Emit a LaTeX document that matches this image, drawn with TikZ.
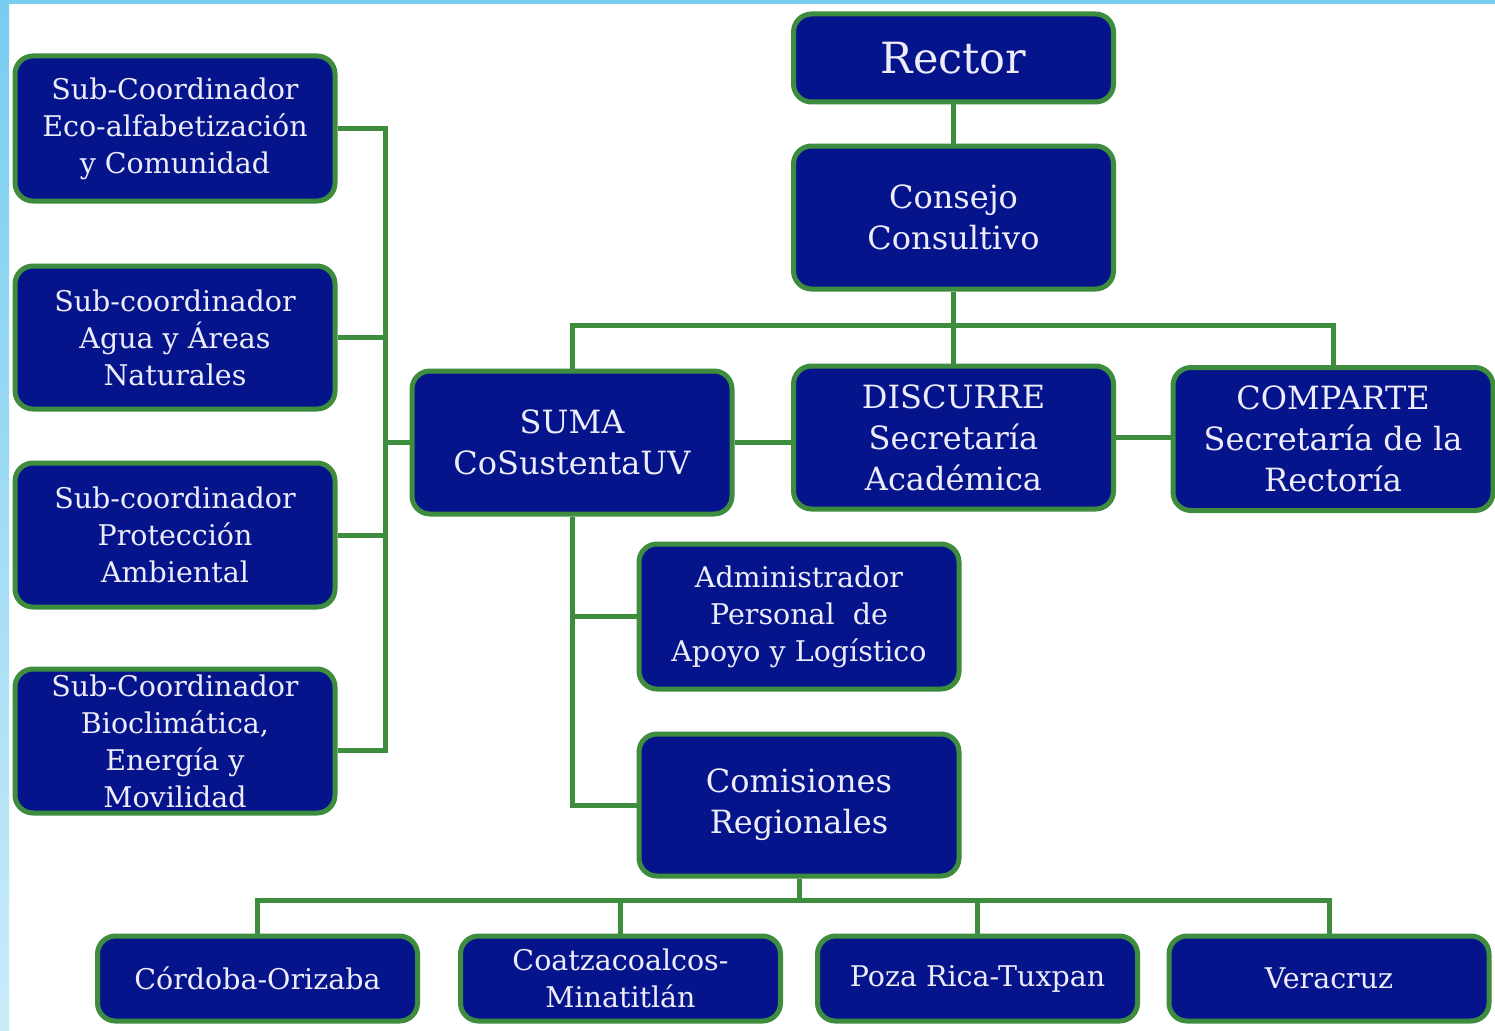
\documentclass[tikz,border=0pt]{standalone}
\usepackage{fontspec}
\setmainfont{DejaVu Serif}
\definecolor{navy}{RGB}{6,20,140}
\definecolor{leaf}{RGB}{62,140,62}
\definecolor{paper}{RGB}{236,236,250}
\definecolor{sky}{RGB}{120,205,240}
\tikzset{
  unit/.style={draw=leaf, line width=5pt, fill=navy, rounded corners=18pt, text=paper,
    align=center, inner sep=2pt, minimum width=320pt},
  small/.style={font=\fontsize{28.5}{37}\selectfont},
  big/.style={font=\fontsize{32}{41}\selectfont},
  link/.style={draw=leaf, line width=5pt}
}
\begin{document}
\begin{tikzpicture}[x=1pt,y=-1pt]
    \useasboundingbox (0,0) rectangle (1495,1030);
    \fill[white] (0,0) rectangle (1495,1030);
    \shade[top color=sky, bottom color=sky!40] (0,0) rectangle (9,1030);
    \fill[sky] (0,0) rectangle (1495,4);

    \node[unit, minimum height=88pt, font=\fontsize{43}{50}\selectfont] (rector) at (953.5,58) {Rector};
    \node[unit, big, minimum height=143pt] (consejo) at (953.5,217.5) {Consejo\\Consultivo};
    \node[unit, big, minimum height=143pt] (suma) at (572,442.5) {SUMA\\CoSustentaUV};
    \node[unit, big, minimum height=143pt] (discurre) at (953.5,437.5) {DISCURRE\\Secretaría\\Académica};
    \node[unit, big, minimum height=143pt] (comparte) at (1333,439) {COMPARTE\\Secretaría de la\\Rectoría};

    \node[unit, small, minimum height=145pt] (subeco) at (175,128.5) {Sub-Coordinador\\Eco-alfabetización\\y Comunidad};
    \node[unit, small, minimum height=143pt] (subagua) at (175,337.5) {Sub-coordinador\\Agua y Áreas\\Naturales};
    \node[unit, small, minimum height=144pt] (subprot) at (175,535) {Sub-coordinador\\Protección\\Ambiental};
    \node[unit, small, minimum height=144pt] (subbio) at (175,741) {Sub-Coordinador\\Bioclimática,\\Energía y\\Movilidad};

    \node[unit, small, minimum height=145pt] (admin) at (799,616.5) {Administrador\\Personal~~de\\Apoyo y Logístico};
    \node[unit, big, minimum height=142pt] (comisiones) at (799,805) {Comisiones\\Regionales};

    \node[unit, small, minimum height=85pt] (cordoba) at (257.5,978.5) {Córdoba-Orizaba};
    \node[unit, small, minimum height=85pt] (coatza) at (620.5,978.5) {Coatzacoalcos-\\Minatitlán};
    \node[unit, small, minimum height=85pt] (poza) at (977.5,978.5) {Poza Rica-Tuxpan};
    \node[unit, small, minimum height=85pt] (veracruz) at (1329,978.5) {Veracruz};

    \coordinate (topbus) at (953.5,325);
    \coordinate (leftbus) at (385,750);
    \coordinate (lowbus) at (799,900);

    \draw[link] (rector) -- (consejo);
    \draw[link] (consejo) -- (discurre);
    \draw[link] (suma.north) |- (topbus) -| (comparte.north);
    \draw[link] (suma.east) -- (suma.east -| discurre.west);
    \draw[link] (discurre.east) -- (discurre.east -| comparte.west);

    \draw[link] (subeco.east) -| (leftbus) -- (leftbus -| subbio.east);
    \draw[link] (subagua.east) -- (subagua.east -| leftbus);
    \draw[link] (subprot.east) -- (subprot.east -| leftbus);
    \draw[link] (suma.west) -- (suma.west -| leftbus);

    \draw[link] (suma.south) |- (comisiones.west);
    \draw[link] (admin.west) -- (admin.west -| suma.south);

    \draw[link] (comisiones.south) -- (lowbus);
    \draw[link] (cordoba.north) |- (lowbus) -| (veracruz.north);
    \draw[link] (coatza.north) -- (coatza.north |- lowbus);
    \draw[link] (poza.north) -- (poza.north |- lowbus);
\end{tikzpicture}
\end{document}
